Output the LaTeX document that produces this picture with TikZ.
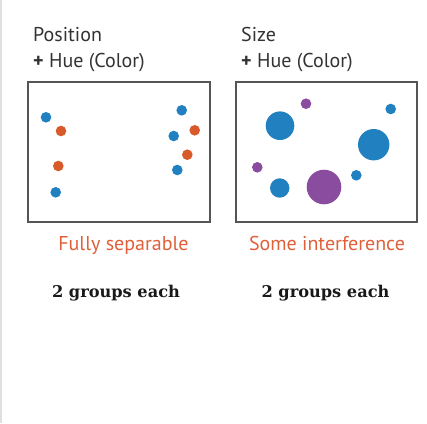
\documentclass[tikz,border=0pt]{standalone}
\usepackage{fontspec}
\setmainfont{PT Sans}
\newfontfamily\slabfont{DejaVu Serif}
\definecolor{dotblue}{HTML}{2180C0}
\definecolor{dotorange}{HTML}{D85A2A}
\definecolor{dotpurple}{HTML}{894C9E}
\definecolor{labelorange}{HTML}{E0603A}
\definecolor{boxgray}{HTML}{555555}
\begin{document}
\begin{tikzpicture}[x=1pt,y=-1pt,
  panel/.style={draw=boxgray,line width=1.4pt},
  head/.style={anchor=base west,inner sep=0pt,font=\fontsize{20}{22}\selectfont,text=black!80},
  verdict/.style={anchor=base,inner sep=0pt,font=\fontsize{20}{22}\selectfont,text=labelorange},
  groups/.style={anchor=base,inner sep=0pt,font=\slabfont\bfseries\fontsize{16.2}{18}\selectfont,text=black!90},
  bdot/.style={fill=dotblue},
  odot/.style={fill=dotorange},
  pdot/.style={fill=dotpurple}]
\useasboundingbox (0,0) rectangle (427,423);
\fill[white] (0,0) rectangle (427,423);
\draw[black!12,line width=2pt] (1,0) -- (1,423);
% headings
\node[head] (h1) at (33,41.5) {Position};
\node[head] (h1b) at (33,67) {\textbf{+} Hue (Color)};
\node[head] (h2) at (241,41.5) {Size};
\node[head] (h2b) at (241,67) {\textbf{+} Hue (Color)};
% panels
\draw[panel] (28,82) rectangle (210,222);
\draw[panel] (236,82) rectangle (417,222);
% left dots
\fill[bdot] (46,117.3) circle (5.3);
\fill[odot] (61,131) circle (5.3);
\fill[odot] (58.3,166) circle (5.3);
\fill[bdot] (55.7,192.3) circle (5.3);
\fill[bdot] (181.7,110.3) circle (5.3);
\fill[odot] (194.7,130.3) circle (5.3);
\fill[bdot] (173.7,136) circle (5.3);
\fill[odot] (187.3,154.7) circle (5.3);
\fill[bdot] (177.3,170) circle (5.3);
% right dots
\fill[pdot] (306,103.7) circle (5.3);
\fill[bdot] (390.7,109) circle (5.3);
\fill[bdot] (280,125.7) circle (14.3);
\fill[bdot] (373.7,144.7) circle (15.7);
\fill[pdot] (257.3,167.3) circle (5.3);
\fill[bdot] (356.3,175.3) circle (5.3);
\fill[bdot] (279.7,188) circle (9.7);
\fill[pdot] (324,187) circle (17.3);
% labels
\node[verdict] (v1) at (123.5,250) {Fully separable};
\node[verdict] (v2) at (327,250) {Some interference};
\node[groups] (g1) at (116,297.5) {2 groups each};
\node[groups] (g2) at (325.5,297.5) {2 groups each};
\end{tikzpicture}
\end{document}
